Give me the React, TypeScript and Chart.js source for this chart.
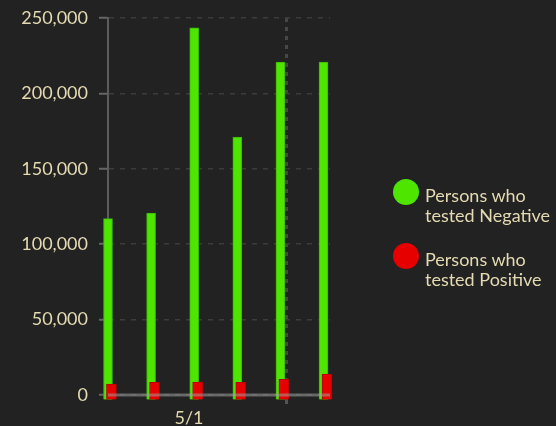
import React, { useEffect, useRef } from "react";
import { Chart, registerables } from "chart.js";

Chart.register(...registerables);

// ---- data ----
const barIndex = [0, 1, 2, 3, 4, 5];
const negatives = [117000, 120700, 243500, 171000, 220800, 220800];
const positives = [7300, 8400, 8600, 8400, 10400, 13900];
const xTickValues = [1.88, 4.15];
const xTickLabels = ["5/1", ""];
const yMax = 250000;
const yStep = 50000;
const seriesLabels = ["Persons who tested Negative", "Persons who tested Positive"];
const legendLines = [
  ["Persons who", "tested Negative"],
  ["Persons who", "tested Positive"],
];

// ---- style ----
const BG = "#222222";
const TEXT = "#e4dab2";
const GREEN = "#4ee600";
const GREEN_BORDER = "#3bb500";
const RED = "#e60000";
const RED_BORDER = "#b50000";
const FONT = "Lato, 'Open Sans', sans-serif";
const RED_OFFSET = 0.08;

const axisLinePlugin = {
  id: "axisLine",
  afterDatasetsDraw(chart: any) {
    const { ctx, chartArea, scales } = chart;
    const y0 = scales.y.getPixelForValue(0);
    ctx.save();
    ctx.strokeStyle = "rgba(160,160,160,0.55)";
    ctx.lineWidth = 3;
    ctx.beginPath();
    ctx.moveTo(chartArea.left, y0);
    ctx.lineTo(chartArea.right, y0);
    ctx.stroke();
    ctx.restore();
  },
};

export default function App() {
  const ref = useRef<HTMLCanvasElement | null>(null);

  useEffect(() => {
    if (!ref.current) return;
    const chart = new Chart(ref.current, {
      type: "bar",
      data: {
        datasets: [
          {
            label: seriesLabels[0],
            data: barIndex.map((x, i) => ({ x, y: negatives[i] })),
            backgroundColor: GREEN,
            borderColor: GREEN_BORDER,
            borderWidth: 1,
            barThickness: 9,
            grouped: false,
            base: -3000,
            clip: false,
            order: 2,
          } as any,
          {
            label: seriesLabels[1],
            data: barIndex.map((x, i) => ({ x: x + RED_OFFSET, y: positives[i] })),
            backgroundColor: RED,
            borderColor: RED_BORDER,
            borderWidth: 1,
            barThickness: 10,
            grouped: false,
            base: -3000,
            clip: false,
            order: 1,
          } as any,
        ],
      },
      options: {
        animation: false,
        responsive: false,
        maintainAspectRatio: false,
        layout: { padding: { top: 18, right: 226, left: 0, bottom: 0 } },
        plugins: { legend: { display: false }, tooltip: { enabled: false } },
        scales: {
          x: {
            type: "linear",
            min: 0,
            max: 5.15,
            bounds: "data",
            offset: false,
            afterBuildTicks: (s: any) => {
              s.ticks = xTickValues.map((v) => ({ value: v }));
            },
            afterFit: (s: any) => {
              s.height = 31;
              s.paddingLeft = 0;
              s.paddingRight = 0;
            },
            ticks: {
              callback: (_v: any, i: number) => xTickLabels[i],
              color: TEXT,
              font: { family: FONT, size: 18 },
              padding: 3,
              maxRotation: 0,
              autoSkip: false,
            },
            grid: {
              offset: false,
              color: (c: any) => (c.index === 1 ? "#474747" : "rgba(0,0,0,0)"),
              lineWidth: 3,
              tickLength: 9,
              tickColor: (c: any) => (c.index === 1 ? "#555555" : "rgba(0,0,0,0)"),
              tickWidth: 3,
              tickBorderDash: [],
            },
            border: { display: false, dash: [4, 5] },
          } as any,
          y: {
            min: 0,
            max: yMax,
            afterFit: (s: any) => {
              s.width = 108;
              s.paddingTop = 0;
              s.paddingBottom = 0;
            },
            ticks: {
              stepSize: yStep,
              callback: (v: any) => Number(v).toLocaleString("en-US"),
              color: TEXT,
              font: { family: FONT, size: 18 },
              padding: 11,
            },
            grid: {
              color: "#3c3c3c",
              lineWidth: 1.5,
              tickLength: 9,
              tickColor: "#666666",
              tickWidth: 2,
              tickBorderDash: [],
            },
            border: { display: true, color: "#5c5c5c", width: 2, dash: [5, 6] },
          } as any,
        },
      },
      plugins: [axisLinePlugin],
    });
    return () => chart.destroy();
  }, []);

  return (
    <div
      style={{
        position: "fixed",
        left: 0,
        top: 0,
        width: 556,
        height: 426,
        background: BG,
        overflow: "hidden",
        fontFamily: FONT,
      }}
    >
      <canvas ref={ref} width={556} height={426} style={{ width: 556, height: 426, display: "block" }} />
      {legendLines.map((lines, i) => (
        <div
          key={i}
          style={{
            position: "absolute",
            left: 393,
            top: 179 + i * 64,
            display: "flex",
            alignItems: "flex-start",
          }}
        >
          <div
            style={{
              width: 26,
              height: 26,
              borderRadius: "50%",
              background: i === 0 ? GREEN : RED,
              flex: "0 0 auto",
            }}
          />
          <div
            style={{
              marginLeft: 6,
              marginTop: 6,
              color: TEXT,
              fontSize: 18,
              lineHeight: "20px",
              whiteSpace: "nowrap",
            }}
          >
            {lines.map((l, j) => (
              <div key={j}>{l}</div>
            ))}
          </div>
        </div>
      ))}
    </div>
  );
}
